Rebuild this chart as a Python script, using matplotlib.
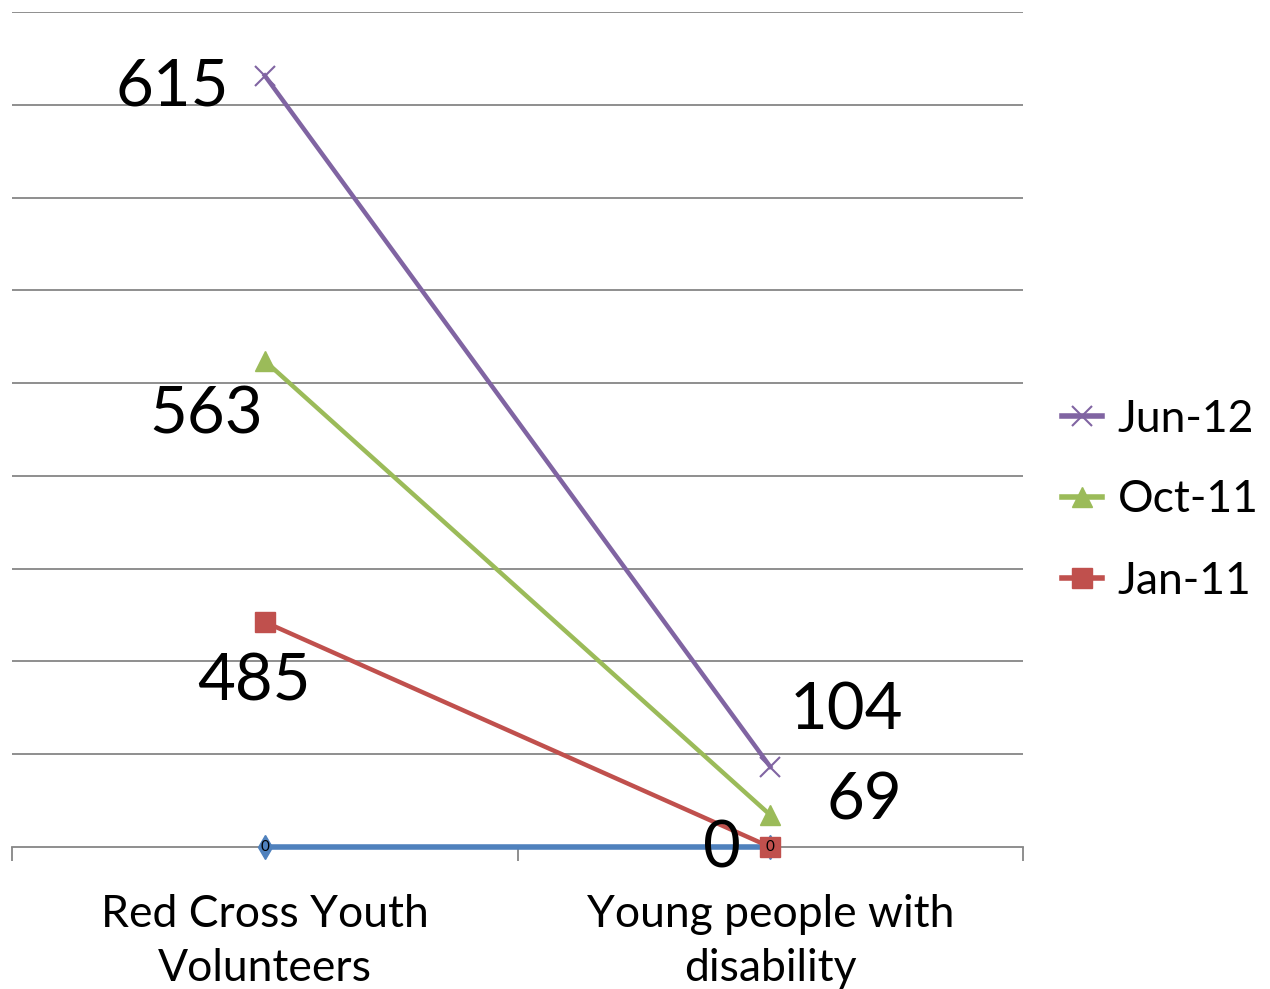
import numpy as np
import matplotlib.pyplot as plt

categories = ['Red Cross Youth\nVolunteers', 'Young people with\ndisability']
# stacked series, bottom to top
base = [0, 0]
jan_11 = [485, 0]
oct_11 = [563, 69]
jun_12 = [615, 104]

plt.rcParams['font.family'] = ['Lato', 'DejaVu Sans']

fig = plt.figure(figsize=(12.7, 9.89), dpi=100)
ax = fig.add_axes([12 / 1270, 142 / 989, 1011 / 1270, 835 / 989])

x = np.arange(len(categories))
stack = np.cumsum([base, jan_11, oct_11, jun_12], axis=0)

grid_c = '#868686'
for y in np.arange(200, 1801, 200):
    ax.axhline(y, color=grid_c, lw=1.3, zorder=0)

ax.plot(x, stack[0], color='#4F81BD', lw=4, marker='d', ms=12,
        mec='#4F81BD', zorder=4, clip_on=False)
ax.plot(x, stack[1], color='#C0504D', lw=3.2, marker='s', ms=14,
        mec='#C0504D', zorder=5, clip_on=False, label='Jan-11')
ax.plot(x, stack[2], color='#9BBB59', lw=3.2, marker='^', ms=15,
        mec='#9BBB59', zorder=5, clip_on=False, label='Oct-11')
ax.plot(x, stack[3], color='#8064A2', lw=3.2, marker='x', ms=15,
        mew=1.5, zorder=5, clip_on=False, label='Jun-12')

big = 47
# value, category, stacked y, offset in pixels, alignment
labels = [
    (jun_12[0], 0, stack[3][0], (-36, -11), 'right'),
    (oct_11[0], 0, stack[2][0], (-59, -54), 'center'),
    (jan_11[0], 0, stack[1][0], (-11, -60), 'center'),
    (jun_12[1], 1, stack[3][1], (76, 56), 'center'),
    (oct_11[1], 1, stack[2][1], (94, 14), 'center'),
    (jan_11[1], 1, stack[1][1], (-48, -2), 'center'),
]
for val, xi, yi, (dx, dy), ha in labels:
    ax.annotate(str(val), (xi, yi), xytext=(dx, dy), textcoords='offset pixels',
                ha=ha, va='center', fontsize=big, zorder=7)
for xi in x:
    ax.annotate(str(base[xi]), (xi, stack[0][xi]), xytext=(0, 0),
                textcoords='offset pixels', ha='center', va='center',
                fontsize=11, zorder=8)

ax.set_xlim(-0.5, 1.5)
ax.set_ylim(0, 1800)
ax.set_yticks([])
for s in ['left', 'right', 'top']:
    ax.spines[s].set_visible(False)
ax.spines['bottom'].set_color(grid_c)
ax.spines['bottom'].set_linewidth(1.3)
ax.spines['bottom'].set_zorder(1)
ax.set_xticks([-0.5, 0.5, 1.5])
ax.set_xticklabels([])
ax.tick_params(axis='x', which='major', length=10, width=1.3, color=grid_c)
ax.set_xticks(x, minor=True)
ax.set_xticklabels(categories, minor=True, fontsize=32, linespacing=1.4)
ax.tick_params(axis='x', which='minor', length=0, pad=34)
ax.patch.set_visible(False)

handles, lbls = ax.get_legend_handles_labels()
leg = fig.legend(handles[::-1], lbls[::-1], loc='center left',
                 bbox_to_anchor=(1062 / 1270, 1 - 500 / 989), frameon=False,
                 fontsize=32, handlelength=0.9, handletextpad=0.35,
                 labelspacing=0.9, borderaxespad=0, borderpad=0)
for h in leg.legend_handles:
    h.set_linewidth(4)

fig.savefig('out.png', dpi=100)
